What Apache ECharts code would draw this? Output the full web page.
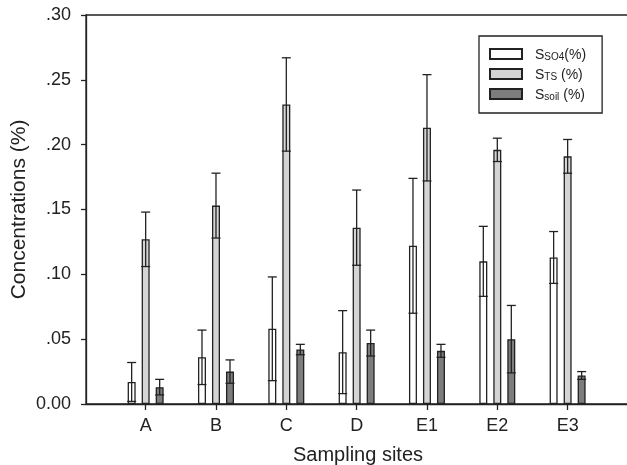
<!DOCTYPE html>
<html>
<head>
<meta charset="utf-8">
<script src="https://cdn.jsdelivr.net/npm/echarts@6/dist/echarts.min.js"></script>
<style>
  html, body { margin: 0; padding: 0; background: #fff; }
  #chart { width: 627px; height: 465px; }
</style>
</head>
<body>
<div id="chart"></div>
<script>
// sampling sites
var categories = ['A', 'B', 'C', 'D', 'E1', 'E2', 'E3']
// mean values and standard deviations (%)
var so4 = [0.017, 0.036, 0.058, 0.040, 0.122, 0.110, 0.113]
var so4Err = [0.015, 0.021, 0.040, 0.032, 0.052, 0.027, 0.020]
var ts = [0.127, 0.153, 0.231, 0.136, 0.213, 0.196, 0.191]
var tsErr = [0.021, 0.025, 0.036, 0.029, 0.041, 0.009, 0.013]
var soil = [0.013, 0.025, 0.042, 0.047, 0.041, 0.050, 0.022]
var soilErr = [0.006, 0.009, 0.004, 0.010, 0.005, 0.026, 0.003]
var yTicks = [0, 0.05, 0.10, 0.15, 0.20, 0.25, 0.30]

var FONT = 'Liberation Sans, Arial, sans-serif'
var INK = '#222'
var BAR_W = 8
var BAR_GAP = 6
var colors = ['#ffffff', '#d4d4d4', '#7d7d7d']

function errData(vals, errs) {
  return vals.map(function(v, i) {
    return [i, v, errs[i]]
  })
}

function errorSeries(name, vals, errs, slot) {
  return {
    name: name + 'Err',
    type: 'custom',
    xAxisIndex: 1,
    yAxisIndex: 1,
    z: 5,
    silent: true,
    data: errData(vals, errs),
    renderItem: function(params, api) {
      var idx = api.value(0)
      var v = api.value(1)
      var e = api.value(2)
      var off = slot * (BAR_W + BAR_GAP)
      var hi = api.coord([idx, v + e])
      var lo = api.coord([idx, Math.max(v - e, 0)])
      var x = hi[0] + off
      var half = BAR_W / 2 + 0.5
      var style = { stroke: INK, lineWidth: 1.3 }
      return {
        type: 'group',
        children: [
          { type: 'line', shape: { x1: x, y1: hi[1], x2: x, y2: lo[1] }, style: style },
          { type: 'line', shape: { x1: x - half, y1: hi[1], x2: x + half, y2: hi[1] }, style: style },
          { type: 'line', shape: { x1: x - half, y1: lo[1], x2: x + half, y2: lo[1] }, style: style }
        ]
      }
    }
  }
}

function barSeries(name, vals, color) {
  return {
    name: name,
    type: 'bar',
    xAxisIndex: 1,
    yAxisIndex: 1,
    barWidth: BAR_W,
    barGap: (BAR_GAP / BAR_W * 100) + '%',
    itemStyle: { color: color, borderColor: INK, borderWidth: 1.3 },
    data: vals
  }
}

var legendText = {
  so4: '{a|S}{b|SO4}{c|(%)}',
  ts: '{a|S}{b|TS}{c| (%)}',
  soil: '{a|S}{b|soil}{c| (%)}'
}

var chart = echarts.init(document.getElementById('chart'))
chart.setOption({
  animation: false,
  textStyle: { fontFamily: FONT, color: INK },
  grid: [
    { left: 86, right: -3, top: 15, bottom: 61, outerBoundsMode: 'none', show: true, borderColor: INK, borderWidth: 1.3 },
    { left: 110.5, right: 24.2, top: 15, bottom: 61, outerBoundsMode: 'none' }
  ],
  legend: {
    orient: 'vertical',
    left: 479,
    top: 36,
    padding: [12, 16, 11, 10],
    itemWidth: 32,
    itemHeight: 10,
    itemGap: 6,
    icon: 'rect',
    borderColor: INK,
    borderWidth: 1.3,
    borderRadius: 0,
    backgroundColor: '#fff',
    data: ['so4', 'ts', 'soil'],
    formatter: function(name) {
      return legendText[name]
    },
    textStyle: {
      rich: {
        a: { fontSize: 14, lineHeight: 16, verticalAlign: 'bottom', fontFamily: FONT, color: INK, padding: [0, 0, 0, 8] },
        b: { fontSize: 10, lineHeight: 16, verticalAlign: 'bottom', fontFamily: FONT, color: INK },
        c: { fontSize: 14, lineHeight: 16, verticalAlign: 'bottom', fontFamily: FONT, color: INK }
      }
    }
  },
  xAxis: [
    {
      type: 'value',
      gridIndex: 0,
      min: 0,
      max: 1,
      name: 'Sampling sites',
      nameLocation: 'middle',
      nameGap: 41,
      nameMoveOverlap: false,
      nameTextStyle: { fontSize: 20, fontFamily: FONT, color: INK },
      axisLine: { show: true, lineStyle: { color: INK, width: 1.3 } },
      axisTick: { show: false },
      axisLabel: { show: false },
      splitLine: { show: false }
    },
    {
      type: 'category',
      gridIndex: 1,
      data: categories,
      axisLine: { show: false },
      axisTick: { show: true, alignWithLabel: true, length: 6, lineStyle: { color: INK, width: 1.3 } },
      axisLabel: { margin: 13, fontSize: 18, fontFamily: FONT, color: INK }
    }
  ],
  yAxis: [
    {
      type: 'value',
      gridIndex: 0,
      min: 0,
      max: 0.3,
      interval: 0.05,
      name: 'Concentrations (%)',
      nameLocation: 'middle',
      nameGap: 56,
      nameMoveOverlap: false,
      nameTextStyle: { fontSize: 21, fontFamily: FONT, color: INK },
      axisLine: { show: true, lineStyle: { color: INK, width: 1.3 } },
      axisTick: { show: true, length: 5, lineStyle: { color: INK, width: 1.3 } },
      axisLabel: {
        margin: 15,
        fontSize: 18,
        fontFamily: FONT,
        color: INK,
        customValues: yTicks,
        formatter: function(v) {
          return v === 0 ? '0.00' : v.toFixed(2).replace(/^0/, '')
        }
      },
      splitLine: { show: false }
    },
    {
      type: 'value',
      gridIndex: 1,
      min: 0,
      max: 0.3,
      show: false
    }
  ],
  series: [
    barSeries('so4', so4, colors[0]),
    barSeries('ts', ts, colors[1]),
    barSeries('soil', soil, colors[2]),
    errorSeries('so4', so4, so4Err, -1),
    errorSeries('ts', ts, tsErr, 0),
    errorSeries('soil', soil, soilErr, 1)
  ]
})
</script>
</body>
</html>
